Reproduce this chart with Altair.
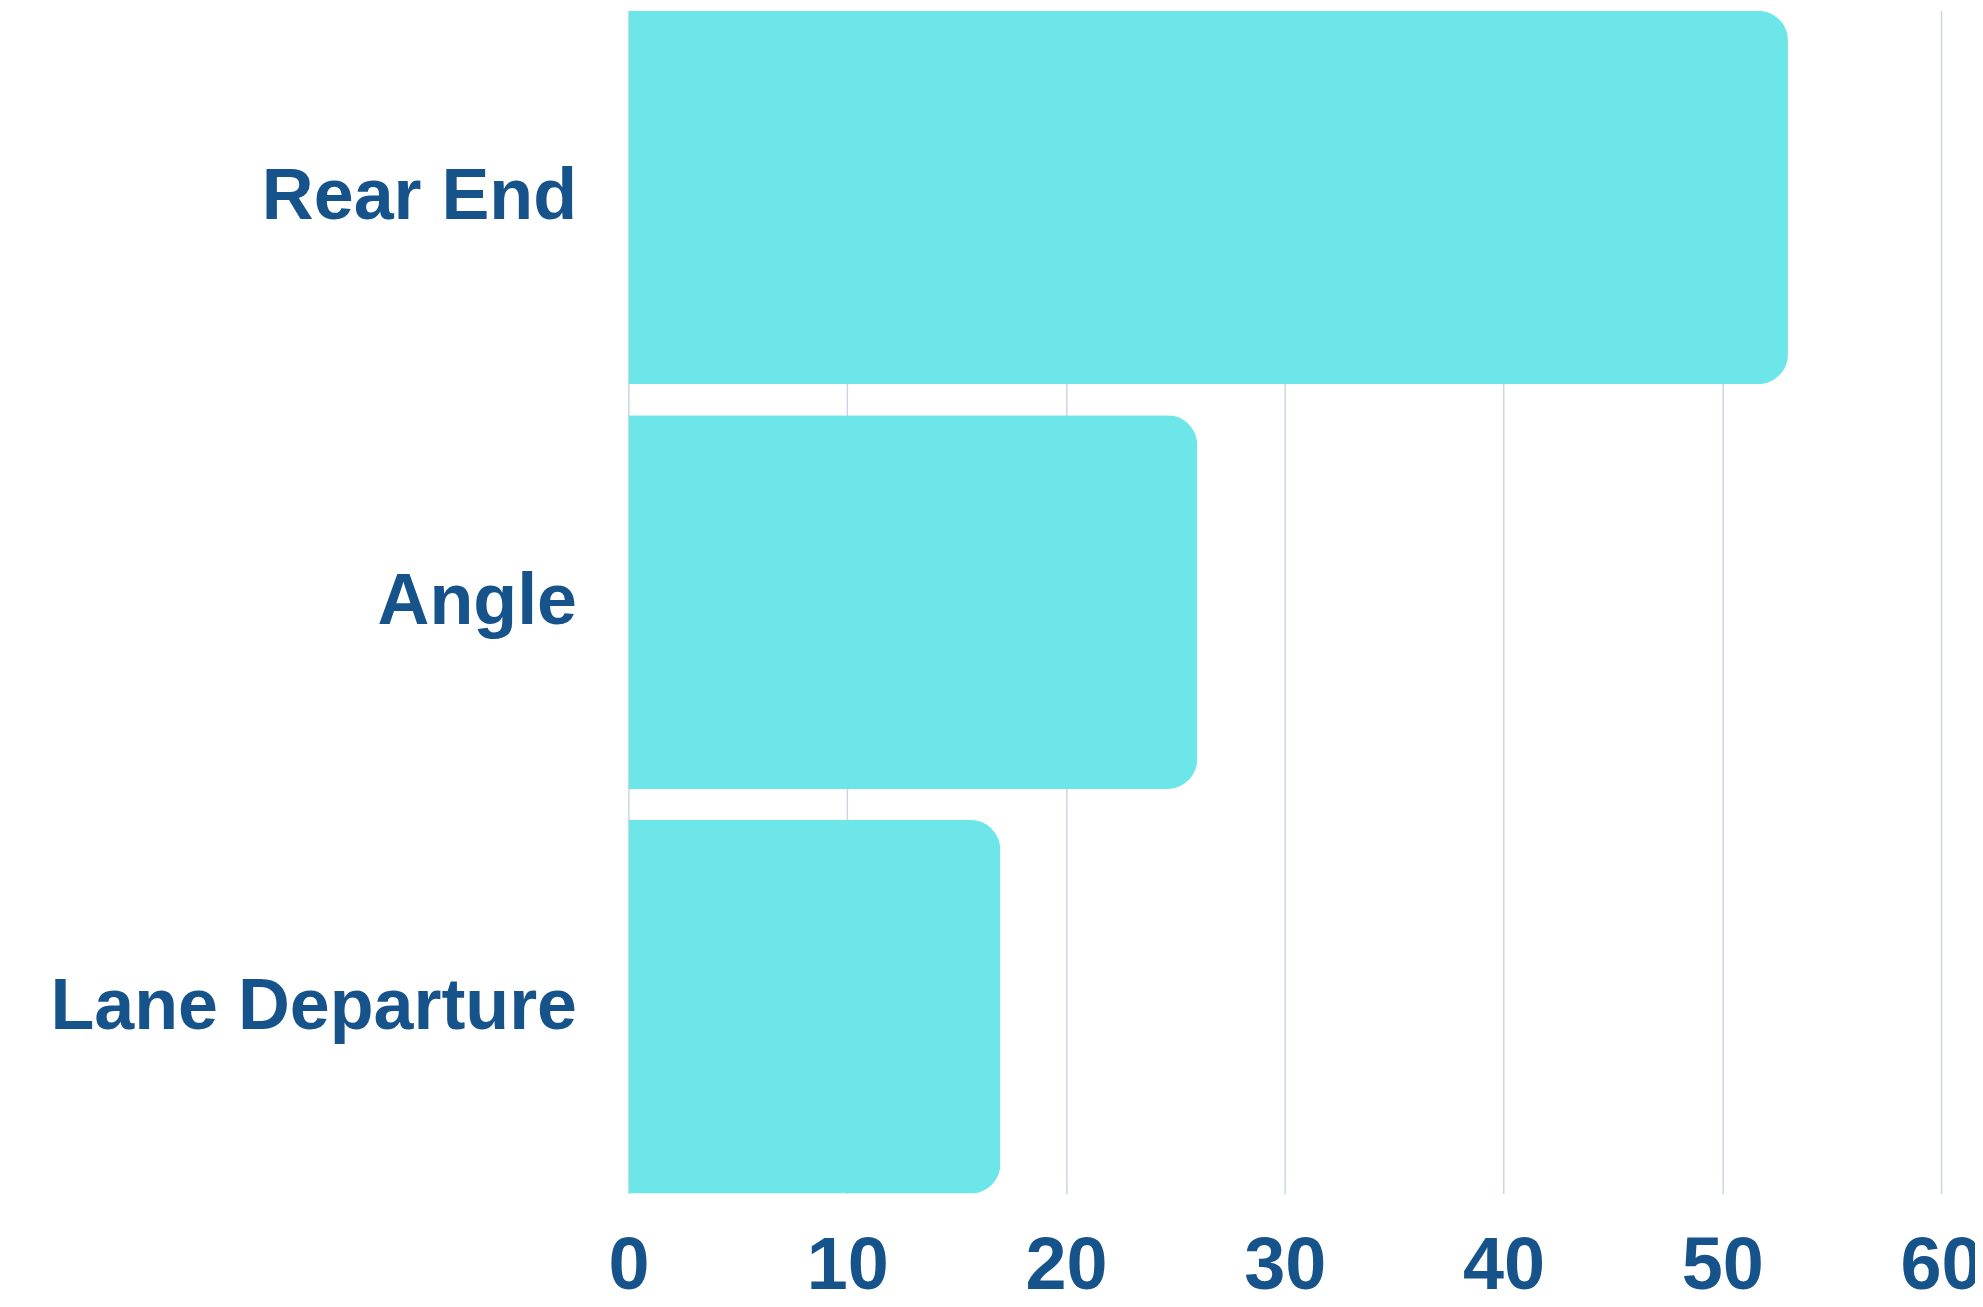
import altair as alt
import pandas as pd

categories = ["Rear End", "Angle", "Lane Departure"]
values = [53, 26, 17]
x_ticks = [0, 10, 20, 30, 40, 50, 60]

df = pd.DataFrame({"category": categories, "value": values})

TEXT = "#16538a"
FONT = "Liberation Sans"

chart = alt.Chart(df).mark_bar(color="#6ce6e9", cornerRadiusEnd=30).encode(
    x=alt.X(
        "value:Q",
        scale=alt.Scale(domain=[0, 60], nice=False),
        axis=alt.Axis(
            values=x_ticks, title=None, grid=True, gridColor="#c9d6e4", gridWidth=1.5,
            domain=False, ticks=False, tickSize=0, labelFont=FONT, labelFontWeight="bold",
            labelFontSize=74, labelColor=TEXT, labelPadding=37, labelFlush=False,
        ),
    ),
    y=alt.Y(
        "category:N",
        sort=categories,
        scale=alt.Scale(paddingInner=0.077, paddingOuter=0),
        axis=alt.Axis(
            title=None, domain=False, ticks=False, tickSize=0, grid=False,
            labelFont=FONT, labelFontWeight="bold", labelFontSize=72, labelColor=TEXT,
            labelPadding=52, labelLimit=1000,
        ),
    ),
).properties(
    width=1316,
    height=1186,
    autosize=alt.AutoSizeParams(type="none"),
    padding={"left": 622, "top": 1, "right": 34, "bottom": 102},
).configure_view(stroke=None)

chart.save("out.html", embed_options={"renderer": "svg", "actions": False})
